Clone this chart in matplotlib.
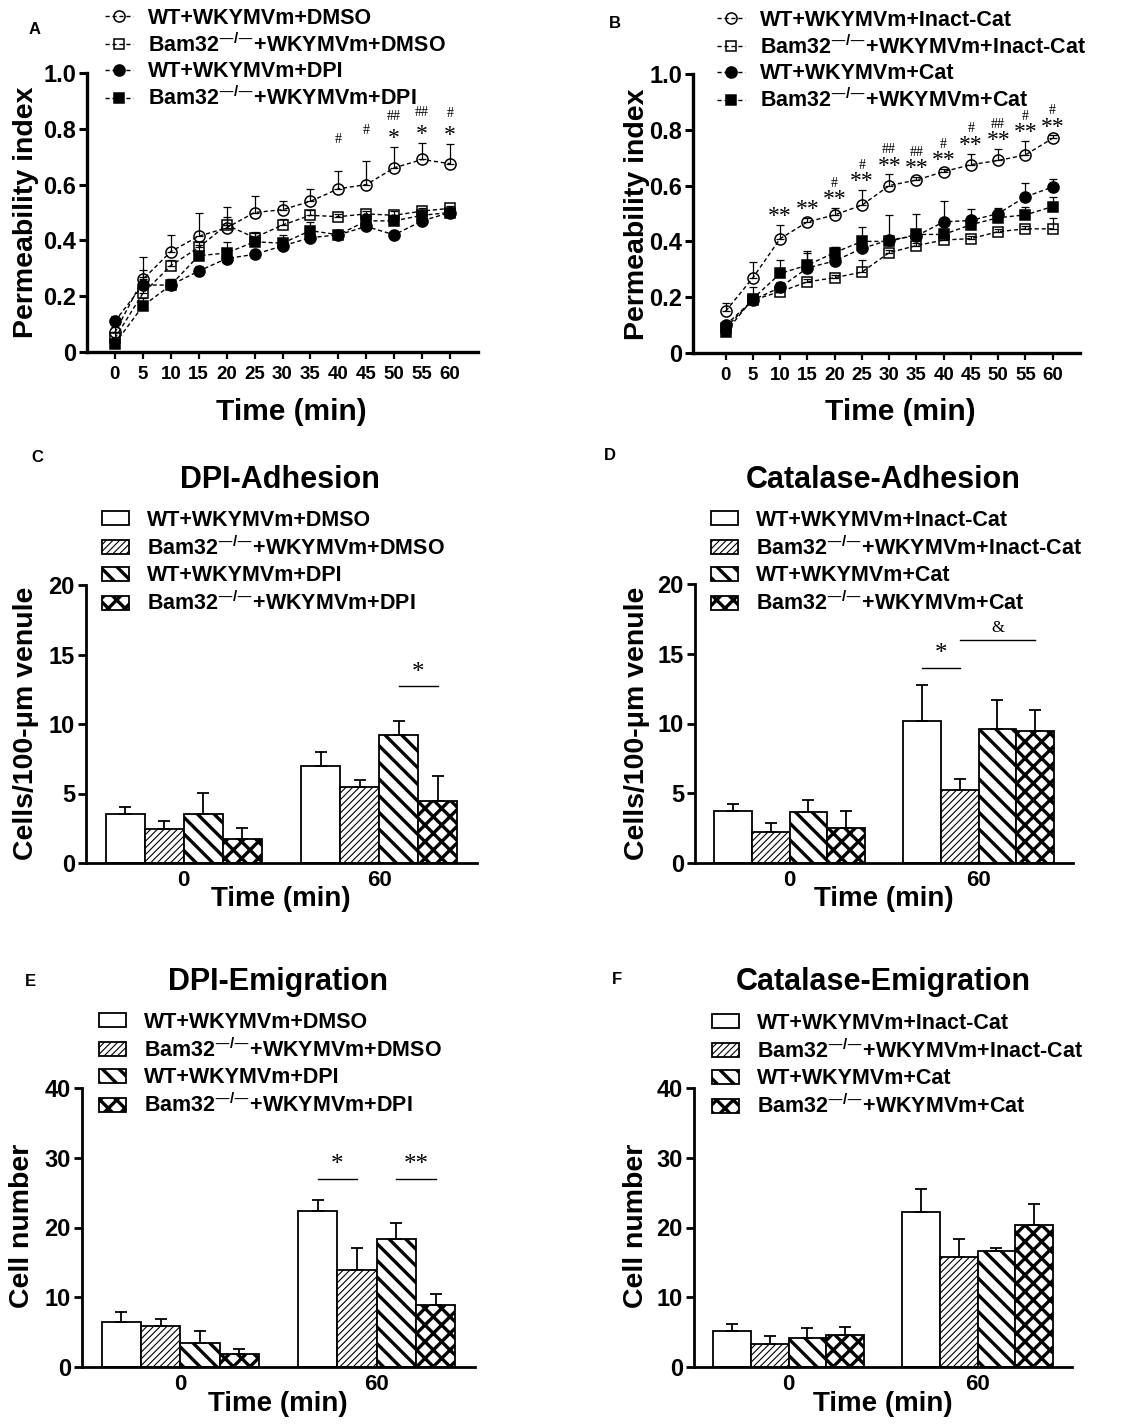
import numpy as np
import matplotlib
matplotlib.use("Agg")
import matplotlib.pyplot as plt
from matplotlib.lines import Line2D
from matplotlib.patches import Patch

plt.rcParams['font.family'] = ['Liberation Sans', 'DejaVu Sans']
plt.rcParams['font.weight'] = 'bold'
plt.rcParams['mathtext.default'] = 'regular'

W, H = 1138, 1424

# ---------------- data ----------------
time_min = [0, 5, 10, 15, 20, 25, 30, 35, 40, 45, 50, 55, 60]

KO = 'Bam32$^{—/—}$'

# panel A: permeability, DPI
a_labels = ['WT+WKYMVm+DMSO', KO + '+WKYMVm+DMSO',
            'WT+WKYMVm+DPI', KO + '+WKYMVm+DPI']
a_wt_dmso = [0.07, 0.26, 0.36, 0.415, 0.445, 0.50, 0.51, 0.54, 0.585, 0.60, 0.66, 0.69, 0.675]
a_wt_dmso_err = [0.02, 0.08, 0.06, 0.085, 0.075, 0.06, 0.03, 0.045, 0.065, 0.085, 0.075, 0.06, 0.07]
a_ko_dmso = [0.05, 0.21, 0.31, 0.375, 0.455, 0.41, 0.455, 0.49, 0.485, 0.495, 0.49, 0.505, 0.515]
a_ko_dmso_err = [0.02, 0.085, 0.02, 0.02, 0.03, 0.02, 0.02, 0.02, 0.01, 0.01, 0.015, 0.01, 0.01]
a_wt_dpi = [0.11, 0.24, 0.24, 0.29, 0.335, 0.35, 0.38, 0.41, 0.42, 0.45, 0.42, 0.47, 0.50]
a_wt_dpi_err = [0.02, 0.03, 0.02, 0.02, 0.02, 0.01, 0.02, 0.02, 0.01, 0.02, 0.01, 0.01, 0.01]
a_ko_dpi = [0.03, 0.165, 0.24, 0.345, 0.355, 0.395, 0.39, 0.435, 0.42, 0.47, 0.47, 0.49, 0.50]
a_ko_dpi_err = [0.01, 0.03, 0.02, 0.04, 0.04, 0.03, 0.03, 0.03, 0.01, 0.02, 0.02, 0.01, 0.01]
a_star = ['', '', '', '', '', '', '', '', '', '', '*', '*', '*']
a_hash = ['', '', '', '', '', '', '', '', '#', '#', '##', '##', '#']

# panel B: permeability, catalase
b_labels = ['WT+WKYMVm+Inact-Cat', KO + '+WKYMVm+Inact-Cat',
            'WT+WKYMVm+Cat', KO + '+WKYMVm+Cat']
b_wt_inact = [0.15, 0.27, 0.41, 0.47, 0.495, 0.53, 0.60, 0.62, 0.65, 0.675, 0.69, 0.71, 0.77]
b_wt_inact_err = [0.03, 0.055, 0.05, 0.015, 0.025, 0.055, 0.04, 0.01, 0.01, 0.04, 0.04, 0.05, 0.01]
b_ko_inact = [0.09, 0.19, 0.22, 0.255, 0.27, 0.29, 0.36, 0.385, 0.405, 0.41, 0.435, 0.445, 0.445]
b_ko_inact_err = [0.01, 0.01, 0.01, 0.01, 0.01, 0.045, 0.01, 0.01, 0.01, 0.01, 0.01, 0.01, 0.04]
b_wt_cat = [0.10, 0.19, 0.235, 0.305, 0.33, 0.375, 0.405, 0.42, 0.47, 0.475, 0.50, 0.56, 0.595]
b_wt_cat_err = [0.01, 0.02, 0.02, 0.055, 0.05, 0.02, 0.09, 0.02, 0.075, 0.04, 0.02, 0.05, 0.03]
b_ko_cat = [0.075, 0.195, 0.285, 0.315, 0.36, 0.40, 0.40, 0.425, 0.425, 0.46, 0.485, 0.495, 0.525]
b_ko_cat_err = [0.01, 0.04, 0.05, 0.05, 0.02, 0.05, 0.02, 0.075, 0.02, 0.02, 0.02, 0.03, 0.035]
b_star = ['', '', '**', '**', '**', '**', '**', '**', '**', '**', '**', '**', '**']
b_hash = ['', '', '', '', '#', '#', '##', '##', '#', '#', '##', '#', '#']

# bar panels
group_labels = ['0', '60']
dpi_labels = a_labels
cat_labels = b_labels

c_means = [[3.5, 7.0], [2.45, 5.45], [3.5, 9.2], [1.7, 4.45]]
c_errs = [[0.5, 1.0], [0.55, 0.55], [1.55, 1.05], [0.8, 1.8]]

d_means = [[3.7, 10.2], [2.2, 5.2], [3.65, 9.6], [2.5, 9.45]]
d_errs = [[0.5, 2.55], [0.65, 0.8], [0.9, 2.1], [1.2, 1.55]]

e_means = [[6.4, 22.4], [5.9, 13.9], [3.4, 18.4], [1.9, 8.95]]
e_errs = [[1.55, 1.6], [1.0, 3.1], [1.8, 2.3], [0.75, 1.55]]

f_means = [[5.2, 22.2], [3.3, 15.8], [4.2, 16.6], [4.65, 20.4]]
f_errs = [[1.0, 3.3], [1.15, 2.5], [1.4, 0.5], [1.1, 3.0]]

# significance brackets: (group, bar_from, bar_to, label)
c_sig = [(1, 2, 3, '*')]
d_sig = [(1, 0, 1, '*'), (1, 1, 3, '&')]
e_sig = [(1, 0, 1, '*'), (1, 2, 3, '**')]
c_sig_y = [12.7]
d_sig_y = [14.0, 15.95]
e_sig_y = [26.9, 26.9]

# ---------------- helpers ----------------
fig = plt.figure(figsize=(W / 100, H / 100), dpi=100)


def px_axes(left, top, right, bottom):
    return fig.add_axes([left / W, 1 - bottom / H, (right - left) / W, (bottom - top) / H])


def style_axes(ax, spine_w=2.2):
    for s in ['top', 'right']:
        ax.spines[s].set_visible(False)
    for s in ['left', 'bottom']:
        ax.spines[s].set_linewidth(spine_w)


def ftext(x, y, s, **kw):
    fig.text(x / W, 1 - y / H, s, **kw)


markers = [dict(marker='o', mfc='none', ms=8),
           dict(marker='s', mfc='none', ms=7),
           dict(marker='o', mfc='black', ms=8),
           dict(marker='s', mfc='black', ms=7)]
dash = (0, (3, 2))


def line_panel(ax, series, errs, labels, stars, hashes, xlim, legend_xy, hash_off):
    for i, (y, e) in enumerate(zip(series, errs)):
        ax.errorbar(time_min, y, yerr=[np.zeros(len(e)), e], fmt='none', ecolor='black',
                    elinewidth=0.9, capsize=3, capthick=0.9, zorder=2, clip_on=False)
        ax.plot(time_min, y, color='black', lw=1.0, ls=dash, mec='black', mew=1.1,
                zorder=3, clip_on=False, **markers[i])
    top = np.array(series[0]) + np.array(errs[0])
    for t, yt, s, h in zip(time_min, top, stars, hashes):
        if s:
            ax.text(t, yt + 0.03, s, ha='center', va='center', fontsize=17,
                    family='Liberation Serif', weight='normal')
        if h:
            ax.text(t, yt + hash_off, h, ha='center', va='center', fontsize=10,
                    family='Liberation Serif', weight='normal')
    ax.set_xlim(*xlim)
    ax.set_ylim(0, 1.0)
    ax.set_xticks(time_min)
    ax.set_xticklabels([str(t) for t in time_min])
    ax.set_yticks([0, 0.2, 0.4, 0.6, 0.8, 1.0])
    ax.set_yticklabels(['0', '0.2', '0.4', '0.6', '0.8', '1.0'])
    style_axes(ax, 2.4)
    ax.tick_params(axis='y', length=6, width=2.2, labelsize=17, pad=2)
    ax.tick_params(axis='x', length=5, width=1.6, labelsize=13.5, pad=5)
    handles = [Line2D([], [], color='black', lw=1.0, ls=dash, mec='black', mew=1.1, **m)
               for m in markers]
    ax.legend(handles, labels, loc='upper left',
              bbox_to_anchor=(legend_xy[0] / W, 1 - legend_xy[1] / H),
              bbox_transform=fig.transFigure, frameon=False, borderpad=0,
              borderaxespad=0, handlelength=1.3, handletextpad=0.7,
              labelspacing=0.2, prop=dict(size=15.5, weight='bold'))


hatches = [('', 1.0), ('/////', 0.8), ('\\\\', 2.4), ('xx', 2.4)]


def set_hatch_lw(p, lw):
    if hasattr(p, 'set_hatch_linewidth'):
        p.set_hatch_linewidth(lw)


def bar_panel(ax, means, errs, labels, ymax, yticks, legend_xy, sig=None, sig_y=None):
    x = np.arange(len(group_labels))
    bw = 0.2
    for i, (m, e) in enumerate(zip(means, errs)):
        pos = x + (i - 1.5) * bw
        h, hlw = hatches[i]
        with plt.rc_context({'hatch.linewidth': hlw}):
            bars = ax.bar(pos, m, width=bw, color='white', edgecolor='black',
                          linewidth=1.3, hatch=h, zorder=2)
        for b in bars:
            set_hatch_lw(b, hlw)
        ax.errorbar(pos, m, yerr=[np.zeros(len(e)), e], fmt='none', ecolor='black',
                    elinewidth=1.3, capsize=4.5, capthick=1.3, zorder=3)
    if sig:
        for (g, b0, b1, s), yy in zip(sig, sig_y):
            x0 = x[g] + (b0 - 1.5) * bw
            x1 = x[g] + (b1 - 1.5) * bw
            ax.plot([x0, x1], [yy, yy], color='black', lw=1.0)
            fs = 12 if s == '&' else 18
            off = 0.045 if s == '&' else 0.05
            ax.text((x0 + x1) / 2, yy + off * ymax, s, ha='center', va='center',
                    fontsize=fs, family='Liberation Serif', weight='normal')
    ax.set_xlim(-0.5, 1.5)
    ax.set_ylim(0, ymax)
    ax.set_xticks(x)
    ax.set_xticklabels(group_labels)
    ax.set_yticks(yticks)
    style_axes(ax, 2.0)
    ax.tick_params(axis='y', length=6, width=2.0, labelsize=17, pad=2)
    ax.tick_params(axis='x', length=0, labelsize=16, pad=5)
    handles = [Patch(facecolor='white', edgecolor='black', hatch=h, linewidth=1.3)
               for h, _ in hatches]
    leg = ax.legend(handles, labels, loc='upper left',
                    bbox_to_anchor=(legend_xy[0] / W, 1 - legend_xy[1] / H),
                    bbox_transform=fig.transFigure, frameon=False, borderpad=0,
                    borderaxespad=0, handlelength=1.25, handleheight=0.62,
                    handletextpad=0.85, labelspacing=0.25,
                    prop=dict(size=15.5, weight='bold'))
    for p, (_, hlw) in zip(leg.get_patches(), hatches):
        set_hatch_lw(p, hlw)


# ---------------- panels ----------------
ax_a = px_axes(87, 73, 478, 352)
line_panel(ax_a, [a_wt_dmso, a_ko_dmso, a_wt_dpi, a_ko_dpi],
           [a_wt_dmso_err, a_ko_dmso_err, a_wt_dpi_err, a_ko_dpi_err],
           a_labels, a_star, a_hash, (-5, 65), (105, 8), 0.11)

ax_b = px_axes(693, 74, 1080, 353)
line_panel(ax_b, [b_wt_inact, b_ko_inact, b_wt_cat, b_ko_cat],
           [b_wt_inact_err, b_ko_inact_err, b_wt_cat_err, b_ko_cat_err],
           b_labels, b_star, b_hash, (-6, 65), (717, 10), 0.088)

ax_c = px_axes(86, 585, 477, 863)
bar_panel(ax_c, c_means, c_errs, dpi_labels, 20, [0, 5, 10, 15, 20], (102, 510), c_sig, c_sig_y)

ax_d = px_axes(695, 584, 1073, 863)
bar_panel(ax_d, d_means, d_errs, cat_labels, 20, [0, 5, 10, 15, 20], (711, 510), d_sig, d_sig_y)

ax_e = px_axes(82, 1088, 475, 1367)
bar_panel(ax_e, e_means, e_errs, dpi_labels, 40, [0, 10, 20, 30, 40], (99, 1012), e_sig, e_sig_y)

ax_f = px_axes(694, 1088, 1072, 1367)
bar_panel(ax_f, f_means, f_errs, cat_labels, 40, [0, 10, 20, 30, 40], (712, 1013))

# ---------------- text ----------------
for s, (x, y) in zip('ABCDEF', [(35, 29), (615, 24), (37, 458), (610, 455), (30, 982), (617, 980)]):
    ftext(x, y, s, ha='center', va='center', fontsize=12, weight='bold')

for s, (x, y) in zip(['DPI-Adhesion', 'Catalase-Adhesion', 'DPI-Emigration', 'Catalase-Emigration'],
                     [(280, 480), (883, 480), (278, 982), (883, 982)]):
    ftext(x, y, s, ha='center', va='center', fontsize=22, weight='bold')

for x, y, fs in [(291, 412, 21.5), (900, 412, 21.5), (281, 899, 20), (884, 899, 20),
                 (278, 1404, 20), (883, 1404, 20)]:
    ftext(x, y, 'Time (min)', ha='center', va='center', fontsize=fs, weight='bold')

for s, (x, y) in zip(['Permeability index', 'Permeability index', 'Cells/100-μm venule',
                      'Cells/100-μm venule', 'Cell number', 'Cell number'],
                     [(26, 212), (637, 214), (26, 723), (637, 723), (22, 1226), (636, 1226)]):
    ftext(x, y, s, ha='center', va='center', rotation=90, fontsize=20.5, weight='bold')

fig.savefig('out.png', dpi=100)
